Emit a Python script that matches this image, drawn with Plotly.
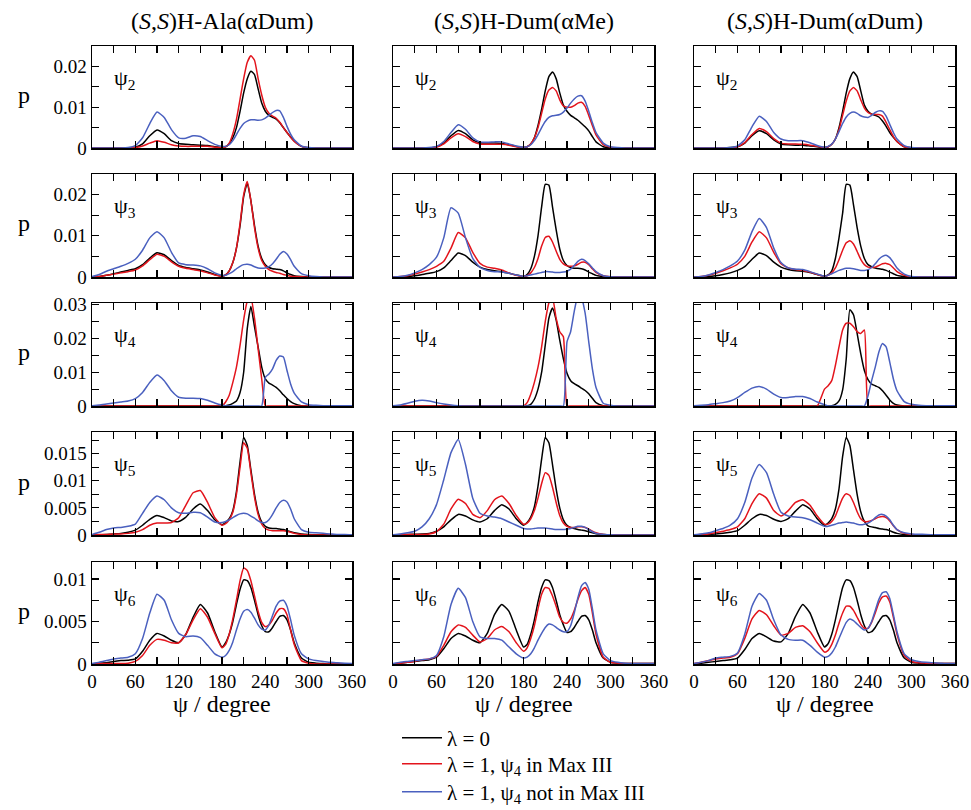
import plotly.graph_objects as go

# ---------------- data (p values in units of 1e-3) ----------------
PSI = [0, 10, 20, 30, 40, 50, 60, 70, 80, 90, 100, 110, 120, 130, 140, 150, 160, 170,
       180, 185, 190, 195, 200, 205, 210, 215, 220, 225, 230, 235, 240, 245, 250, 255, 260, 265, 270, 275, 280,
       290, 300, 310, 320, 330, 340, 350, 360]

P_UNIT = 1e-3

col_titles = ["(<i>S</i>,<i>S</i>)H-Ala(αDum)", "(<i>S</i>,<i>S</i>)H-Dum(αMe)", "(<i>S</i>,<i>S</i>)H-Dum(αDum)"]
row_labels = ["ψ<sub>2</sub>", "ψ<sub>3</sub>", "ψ<sub>4</sub>", "ψ<sub>5</sub>", "ψ<sub>6</sub>"]
series_names = ["λ = 0", "λ = 1, ψ<sub>4</sub> in Max III", "λ = 1, ψ<sub>4</sub> not in Max III"]

x_major = [0, 60, 120, 180, 240, 300, 360]
x_major_text = ["0", "60", "120", "180", "240", "300", "360"]
x_minor = [30, 90, 150, 210, 270, 330]

y_max = [0.025, 0.025, 0.0305, 0.019, 0.012]
y_major = [[0, 0.01, 0.02], [0, 0.01, 0.02], [0, 0.01, 0.02, 0.03],
           [0, 0.005, 0.01, 0.015], [0, 0.005, 0.01]]
y_major_text = [["0", "0.01", "0.02"], ["0", "0.01", "0.02"], ["0", "0.01", "0.02", "0.03"],
                ["0", "0.005", "0.01", "0.015"], ["0", "0.005", "0.01"]]
y_minor = [[0.005, 0.015, 0.025], [0.005, 0.015, 0.025], [0.005, 0.015, 0.025],
           [0.0025, 0.0075, 0.0125, 0.0175], [0.0025, 0.0075]]

# ---- column 1: (S,S)H-Ala(aDum)
ala_psi2_lam0 = [0, 0, 0, 0, 0, 0, 0.2, 1.0, 3.0, 4.4, 3.5, 1.8, 1.1, 0.9, 0.8, 0.7, 0.6, 0.3,
                 0.1, 0.3, 1.0, 2.5, 5.0, 9.0, 13.5, 17.0, 18.8, 18.0, 14.5, 11.0, 9.0, 8.0, 7.5, 7.1, 6.2, 5.0, 3.8, 2.7, 1.7,
                 0.4, 0.05, 0, 0, 0, 0, 0, 0]
ala_psi2_in = [0, 0, 0, 0, 0, 0, 0.1, 0.5, 1.2, 1.8, 1.4, 0.8, 0.5, 0.4, 0.4, 0.4, 0.4, 0.2,
               0.1, 0.3, 1.2, 3.5, 7.0, 12.0, 17.0, 21.0, 22.6, 21.5, 17.0, 13.0, 10.0, 8.5, 7.8, 7.3, 6.3, 5.0, 3.8, 2.6, 1.6,
               0.4, 0.05, 0, 0, 0, 0, 0, 0]
ala_psi2_out = [0, 0, 0, 0, 0, 0.1, 0.6, 2.5, 6.0, 8.8, 7.5, 4.5, 2.5, 2.4, 3.0, 2.8, 1.8, 0.9,
                0.4, 0.4, 0.8, 1.8, 3.3, 4.8, 6.0, 6.6, 6.9, 6.9, 6.8, 6.9, 7.3, 8.0, 8.7, 9.2, 9.1, 7.5, 5.3, 3.4, 2.0,
                0.5, 0.1, 0, 0, 0, 0, 0, 0]

ala_psi3_lam0 = [0, 0.1, 0.4, 0.8, 1.2, 1.6, 2.0, 3.0, 4.6, 5.9, 5.4, 4.0, 2.8, 2.3, 2.0, 1.7, 1.2, 0.6,
                 0.2, 0.5, 1.5, 3.5, 7.0, 12.5, 19.5, 22.8, 18.5, 12.5, 7.5, 4.5, 3.0, 2.3, 2.0, 1.9, 1.8, 1.5, 1.0, 0.6, 0.3,
                 0.1, 0, 0, 0, 0, 0, 0, 0]
ala_psi3_in = [0, 0.1, 0.4, 0.7, 1.0, 1.3, 1.7, 2.7, 4.2, 5.5, 5.0, 3.7, 2.6, 2.1, 1.8, 1.5, 1.0, 0.5,
               0.2, 0.5, 1.5, 3.5, 7.0, 13.0, 20.0, 23.2, 18.5, 12.0, 7.0, 4.0, 2.6, 1.8, 1.4, 1.1, 0.9, 0.6, 0.4, 0.2, 0.1,
               0.05, 0, 0, 0, 0, 0, 0, 0]
ala_psi3_out = [0.1, 0.6, 1.4, 2.0, 2.6, 3.3, 4.3, 6.5, 9.5, 11.0, 9.5, 6.0, 3.4, 3.0, 2.9, 2.7, 2.0, 1.0,
                0.4, 0.4, 0.8, 1.3, 2.0, 2.6, 3.0, 3.1, 2.9, 2.5, 2.2, 2.1, 2.2, 2.5, 3.2, 4.3, 5.5, 6.2, 5.6, 4.2, 2.6,
                0.8, 0.3, 0.1, 0, 0, 0, 0, 0]

ala_psi4_lam0 = [0, 0, 0, 0, 0, 0, 0, 0, 0, 0, 0, 0, 0, 0, 0, 0, 0, 0,
                 0, 0.1, 0.3, 0.8, 1.5, 4.0, 10.0, 23.0, 29.5, 23.5, 17.5, 11.5, 8.0, 6.8, 6.2, 5.5, 4.5, 3.3, 2.2, 1.3, 0.7,
                 0.1, 0, 0, 0, 0, 0, 0, 0]
ala_psi4_in = [0, 0, 0, 0, 0, 0, 0, 0, 0, 0, 0, 0, 0, 0, 0, 0, 0, 0,
               0, 1.2, 3.2, 7.0, 11.5, 18.0, 25.5, 31.0, 32.0, 26.0, 17.0, 8.0, 0, 0, 0, 0, 0, 0, 0, 0, 0,
               0, 0, 0, 0, 0, 0, 0, 0]
ala_psi4_out = [0.1, 0.3, 0.6, 0.9, 1.2, 1.5, 2.2, 4.0, 7.0, 9.2, 7.5, 4.5, 2.6, 2.3, 2.3, 2.2, 1.7, 0.9,
                0.3, 0.1, 0, 0, 0, 0, 0, 0, 0, 0, 0, 0, 8.5, 9.5, 11.0, 13.5, 14.8, 14.5, 10.5, 6.5, 3.8,
                1.2, 0.4, 0.2, 0.1, 0.1, 0.1, 0.1, 0.1]

ala_psi5_lam0 = [0, 0.05, 0.1, 0.2, 0.3, 0.5, 0.9, 1.8, 2.9, 3.6, 3.2, 2.6, 2.5, 3.3, 4.8, 5.7, 4.5, 2.8,
                 1.9, 2.3, 3.0, 4.5, 8.0, 13.5, 18.0, 16.5, 12.0, 7.5, 4.2, 2.4, 1.6, 1.3, 1.2, 1.2, 1.1, 1.0, 0.8, 0.6, 0.4,
                 0.2, 0.1, 0.05, 0.05, 0, 0, 0, 0]
ala_psi5_in = [0, 0.1, 0.1, 0.2, 0.2, 0.3, 0.5, 1.0, 1.8, 2.2, 2.2, 2.3, 3.2, 5.5, 7.8, 8.2, 6.0, 3.2,
               1.8, 2.1, 2.8, 4.2, 7.5, 12.5, 17.0, 16.0, 11.5, 7.0, 3.8, 2.0, 1.2, 0.9, 0.8, 0.8, 0.8, 0.8, 0.7, 0.5, 0.3,
               0.1, 0, 0, 0, 0, 0, 0, 0]
ala_psi5_out = [0.1, 0.5, 1.0, 1.3, 1.4, 1.6, 2.0, 4.0, 6.0, 7.2, 6.5, 5.0, 4.1, 4.0, 4.2, 4.1, 3.3, 2.4,
                2.3, 2.5, 2.8, 3.2, 3.6, 3.9, 4.0, 3.9, 3.5, 3.1, 2.6, 2.3, 2.3, 2.8, 3.8, 5.0, 6.0, 6.4, 6.1, 4.8, 3.0,
                1.0, 0.5, 0.4, 0.3, 0.2, 0.1, 0.1, 0.05]

ala_psi6_lam0 = [0, 0.1, 0.15, 0.3, 0.4, 0.45, 0.6, 1.5, 2.8, 3.6, 3.3, 2.8, 2.5, 3.5, 5.5, 7.0, 6.0, 3.8,
                 2.0, 2.5, 3.5, 5.0, 7.0, 8.8, 9.9, 9.8, 9.0, 7.5, 5.8, 4.5, 3.8, 3.8, 4.3, 5.0, 5.6, 5.7, 5.2, 4.0, 2.5,
                 0.7, 0.2, 0.1, 0.05, 0, 0, 0, 0]
ala_psi6_in = [0, 0.05, 0.05, 0.05, 0.05, 0.1, 0.3, 1.0, 2.2, 2.9, 2.8, 2.5, 2.5, 3.5, 5.2, 6.5, 5.5, 3.6,
               1.9, 2.3, 3.5, 5.3, 7.5, 9.8, 11.3, 11.0, 9.8, 8.0, 6.2, 4.9, 4.4, 4.6, 5.2, 6.0, 6.5, 6.5, 5.8, 4.0, 2.3,
               0.4, 0.1, 0, 0, 0, 0, 0, 0]
ala_psi6_out = [0.05, 0.2, 0.4, 0.6, 0.7, 0.8, 1.2, 3.0, 6.0, 8.2, 7.5, 5.2, 3.6, 3.2, 3.3, 3.1, 2.2, 1.2,
                0.8, 1.0, 1.6, 2.6, 4.0, 5.3, 6.2, 6.4, 6.1, 5.4, 4.6, 4.1, 4.0, 4.6, 5.7, 6.8, 7.4, 7.5, 6.8, 5.2, 3.4,
                1.2, 0.6, 0.4, 0.3, 0.2, 0.15, 0.1, 0.05]

# ---- column 2: (S,S)H-Dum(aMe)
ame_psi2_lam0 = [0, 0, 0, 0, 0, 0, 0.3, 1.2, 3.0, 4.3, 3.5, 2.0, 1.3, 1.2, 1.2, 1.1, 0.8, 0.4,
                 0.1, 0.3, 1.0, 2.5, 5.5, 9.5, 14.0, 17.5, 18.6, 17.0, 13.5, 10.5, 9.0, 8.0, 7.4, 6.8, 6.0, 5.2, 4.2, 2.8, 1.5,
                 0.3, 0.05, 0, 0, 0, 0, 0, 0]
ame_psi2_in = [0, 0, 0, 0, 0, 0, 0.2, 1.0, 2.5, 3.5, 2.8, 1.6, 1.0, 0.9, 0.9, 0.9, 0.7, 0.3,
               0.1, 0.3, 1.0, 2.5, 5.0, 8.5, 12.0, 14.2, 14.8, 14.0, 11.8, 10.3, 10.0, 10.0, 10.4, 11.0, 11.2, 10.2, 8.0, 5.5, 3.2,
               0.8, 0.2, 0, 0, 0, 0, 0, 0]
ame_psi2_out = [0, 0, 0, 0, 0, 0.1, 0.4, 1.6, 3.8, 5.7, 4.6, 2.5, 1.5, 1.4, 1.5, 1.5, 1.0, 0.5,
                0.2, 0.3, 0.8, 1.8, 3.3, 5.0, 6.5, 7.5, 7.9, 8.0, 8.2, 8.8, 9.8, 11.0, 12.0, 12.7, 12.8, 11.5, 9.0, 6.2, 3.8,
                1.2, 0.3, 0.1, 0, 0, 0, 0, 0]

ame_psi3_lam0 = [0, 0.05, 0.1, 0.3, 0.6, 0.9, 1.3, 2.2, 4.0, 5.8, 5.2, 3.6, 2.4, 1.8, 1.5, 1.3, 0.9, 0.5,
                 0.1, 0.6, 2.0, 5.0, 10.0, 17.0, 22.5, 22.3, 17.0, 11.5, 6.8, 4.0, 2.8, 2.3, 2.1, 2.1, 2.0, 1.7, 1.2, 0.8, 0.4,
                 0.1, 0, 0, 0, 0, 0, 0, 0]
ame_psi3_in = [0, 0.1, 0.3, 0.7, 1.2, 1.8, 2.6, 3.8, 7.0, 10.8, 9.5, 6.0, 3.3, 2.4, 2.1, 1.7, 1.0, 0.4,
               0.1, 0.3, 1.0, 2.3, 4.5, 7.5, 9.6, 9.9, 8.5, 6.3, 4.3, 3.2, 2.7, 2.6, 2.7, 3.1, 3.6, 3.6, 3.0, 2.0, 1.1,
               0.3, 0.05, 0, 0, 0, 0, 0, 0]
ame_psi3_out = [0, 0.1, 0.4, 1.0, 1.8, 3.0, 4.8, 9.5, 16.8, 15.5, 9.5, 4.5, 2.3, 1.6, 1.3, 1.2, 0.9, 0.5,
                0.2, 0.3, 0.5, 0.7, 0.9, 1.1, 1.3, 1.3, 1.2, 1.1, 1.1, 1.2, 1.4, 1.9, 2.8, 3.8, 4.3, 4.0, 3.2, 2.2, 1.3,
                0.3, 0.05, 0, 0, 0, 0, 0, 0]

ame_psi4_lam0 = [0, 0, 0, 0, 0, 0, 0, 0, 0, 0, 0, 0, 0, 0, 0, 0, 0, 0,
                 0, 0.1, 0.5, 2.0, 5.0, 10.0, 18.0, 26.0, 29.0, 25.5, 19.5, 14.0, 9.7, 7.5, 6.6, 6.0, 5.3, 4.6, 3.6, 2.3, 1.0,
                 0.1, 0, 0, 0, 0, 0, 0, 0]
ame_psi4_in = [0, 0, 0, 0, 0, 0, 0, 0, 0, 0, 0, 0, 0, 0, 0, 0, 0, 0,
               0, 1.0, 3.5, 7.0, 11.5, 17.5, 25.0, 30.5, 32.0, 26.0, 22.0, 20.5, 0, 0, 0, 0, 0, 0, 0, 0, 0,
               0, 0, 0, 0, 0, 0, 0, 0]
ame_psi4_out = [0.1, 0.3, 0.8, 1.4, 1.7, 1.5, 1.0, 0.6, 0.3, 0.1, 0, 0, 0, 0, 0, 0, 0, 0,
                0, 0, 0, 0, 0, 0, 0, 0, 0, 0, 0, 0, 19.0, 22.0, 28.0, 32.5, 32.0, 27.5, 19.0, 11.0, 5.5,
                0.8, 0.2, 0, 0, 0, 0, 0, 0]

ame_psi5_lam0 = [0, 0.05, 0.1, 0.15, 0.2, 0.3, 0.7, 1.5, 2.8, 3.8, 3.5, 2.8, 2.4, 3.0, 4.5, 5.6, 4.8, 3.0,
                 1.8, 2.3, 3.3, 5.2, 9.0, 14.0, 18.0, 17.0, 13.0, 8.5, 5.0, 2.8, 1.8, 1.4, 1.2, 1.0, 0.9, 0.8, 0.6, 0.4, 0.25,
                 0.1, 0.05, 0, 0, 0, 0, 0, 0]
ame_psi5_in = [0, 0.1, 0.1, 0.1, 0.1, 0.2, 0.6, 2.0, 4.8, 6.6, 5.8, 3.8, 3.2, 4.5, 6.5, 7.2, 5.8, 3.6,
               2.0, 2.2, 3.0, 4.5, 6.8, 9.5, 11.5, 11.0, 8.8, 6.0, 3.6, 2.2, 1.6, 1.4, 1.4, 1.5, 1.5, 1.4, 1.1, 0.7, 0.4,
               0.1, 0.05, 0, 0, 0, 0, 0, 0]
ame_psi5_out = [0.05, 0.2, 0.4, 0.7, 1.5, 3.0, 5.6, 10.2, 15.2, 17.6, 13.0, 6.8, 4.0, 3.5, 3.3, 3.0, 2.4, 1.8,
                1.2, 1.1, 1.1, 1.2, 1.3, 1.3, 1.3, 1.2, 1.1, 1.0, 1.0, 1.0, 1.1, 1.2, 1.4, 1.6, 1.6, 1.4, 1.0, 0.6, 0.3,
                0.1, 0.05, 0, 0, 0, 0, 0, 0]

ame_psi6_lam0 = [0, 0.1, 0.2, 0.3, 0.4, 0.5, 0.8, 1.8, 3.0, 3.6, 3.3, 2.8, 2.5, 3.6, 5.8, 7.0, 6.2, 4.0,
                 2.0, 2.3, 3.5, 5.2, 7.3, 9.0, 9.9, 9.8, 9.0, 7.5, 5.8, 4.6, 3.7, 3.8, 4.3, 5.0, 5.6, 5.7, 5.2, 4.0, 2.5,
                 0.7, 0.2, 0.1, 0.05, 0.05, 0.05, 0.05, 0.05]
ame_psi6_in = [0, 0.1, 0.2, 0.3, 0.5, 0.6, 0.9, 2.2, 3.8, 4.6, 4.3, 3.4, 2.6, 3.0, 4.0, 4.4, 3.8, 2.5,
               1.5, 1.9, 3.0, 4.5, 6.5, 8.2, 9.0, 8.9, 8.0, 6.8, 5.5, 4.9, 4.8, 5.3, 6.3, 7.6, 8.6, 9.0, 8.2, 6.0, 3.5,
               0.8, 0.2, 0.1, 0.05, 0.05, 0.05, 0.05, 0.05]
ame_psi6_out = [0.05, 0.2, 0.3, 0.4, 0.5, 0.6, 1.0, 3.2, 7.0, 8.9, 7.8, 5.0, 3.2, 3.0, 3.0, 2.8, 2.0, 1.2,
                0.7, 0.8, 1.2, 1.9, 2.8, 3.6, 4.3, 4.7, 4.6, 4.3, 4.0, 3.8, 3.8, 4.5, 6.0, 7.8, 9.2, 9.6, 8.8, 6.5, 4.0,
                1.2, 0.4, 0.2, 0.1, 0.05, 0.05, 0.05, 0.05]

# ---- column 3: (S,S)H-Dum(aDum)
adum_psi2_lam0 = [0, 0, 0, 0, 0, 0.1, 0.3, 1.2, 3.0, 4.2, 3.5, 2.0, 1.0, 0.8, 0.7, 0.7, 0.5, 0.3,
                  0.1, 0.3, 0.9, 2.2, 5.0, 9.0, 13.5, 17.0, 18.6, 17.5, 14.0, 10.5, 9.0, 8.3, 8.0, 7.6, 6.6, 5.3, 3.8, 2.6, 1.6,
                  0.3, 0.05, 0, 0, 0, 0, 0, 0]
adum_psi2_in = [0, 0, 0, 0, 0, 0, 0.3, 1.3, 3.3, 4.8, 4.0, 2.3, 1.2, 1.0, 1.0, 0.9, 0.7, 0.4,
                0.1, 0.3, 0.9, 2.2, 4.5, 8.0, 11.5, 14.0, 14.8, 14.0, 11.8, 9.8, 8.7, 8.3, 8.2, 8.2, 7.8, 6.3, 4.5, 2.8, 1.6,
                0.3, 0.05, 0, 0, 0, 0, 0, 0]
adum_psi2_out = [0, 0, 0, 0, 0, 0.1, 0.5, 2.0, 5.2, 7.8, 6.5, 3.8, 2.2, 1.8, 1.8, 1.8, 1.3, 0.6,
                 0.2, 0.4, 1.0, 2.2, 4.0, 6.0, 7.6, 8.5, 8.8, 8.5, 7.9, 7.6, 7.5, 8.0, 8.7, 9.1, 9.0, 7.8, 5.8, 3.8, 2.2,
                 0.6, 0.1, 0, 0, 0, 0, 0, 0]

adum_psi3_lam0 = [0, 0.05, 0.1, 0.3, 0.6, 1.0, 1.6, 2.5, 4.3, 5.8, 5.2, 3.6, 2.4, 1.8, 1.5, 1.4, 1.1, 0.6,
                  0.2, 0.5, 1.5, 4.5, 9.5, 15.5, 22.5, 22.3, 17.5, 12.0, 7.5, 4.5, 3.0, 2.5, 2.2, 2.0, 1.9, 1.6, 1.2, 0.8, 0.4,
                  0.1, 0, 0, 0, 0, 0, 0, 0]
adum_psi3_in = [0, 0.1, 0.4, 0.9, 1.5, 2.2, 3.1, 5.0, 8.5, 11.0, 9.5, 6.0, 3.2, 2.2, 1.8, 1.6, 1.2, 0.6,
                0.2, 0.4, 1.0, 2.2, 4.2, 6.5, 8.3, 8.8, 8.0, 6.2, 4.3, 3.0, 2.4, 2.3, 2.4, 2.8, 3.2, 3.3, 3.0, 2.2, 1.3,
                0.4, 0.05, 0, 0, 0, 0, 0, 0]
adum_psi3_out = [0, 0.1, 0.5, 1.1, 1.8, 2.7, 3.9, 6.5, 11.0, 14.2, 12.0, 7.0, 3.5, 2.2, 1.9, 1.8, 1.3, 0.7,
                 0.2, 0.4, 0.8, 1.2, 1.6, 1.9, 2.1, 2.1, 2.0, 1.8, 1.6, 1.6, 1.8, 2.3, 3.2, 4.3, 5.0, 5.3, 4.7, 3.5, 2.2,
                 0.7, 0.1, 0, 0, 0, 0, 0, 0]

adum_psi4_lam0 = [0, 0, 0, 0, 0, 0, 0, 0, 0, 0, 0, 0, 0, 0, 0, 0, 0, 0,
                  0, 0, 0.1, 0.5, 1.5, 4.8, 14.0, 28.5, 27.0, 21.5, 15.5, 10.5, 7.8, 6.5, 6.0, 5.5, 4.5, 3.2, 1.8, 0.8, 0.3,
                  0, 0, 0, 0, 0, 0, 0, 0]
adum_psi4_in = [0, 0, 0, 0, 0, 0, 0, 0, 0, 0, 0, 0, 0, 0, 0, 0, 0, 0,
                5.0, 6.0, 7.5, 12.0, 17.5, 22.5, 24.5, 24.5, 23.5, 22.0, 21.5, 22.5, 0, 0, 0, 0, 0, 0, 0, 0, 0,
                0, 0, 0, 0, 0, 0, 0, 0]
adum_psi4_out = [0.05, 0.2, 0.4, 0.7, 1.0, 1.5, 2.5, 4.0, 5.3, 5.8, 5.0, 3.5, 2.5, 2.5, 2.8, 2.8, 2.2, 1.2,
                 0.4, 0, 0, 0, 0, 0, 0, 0, 0, 0, 0, 0, 3.0, 7.5, 11.5, 16.0, 18.5, 17.5, 13.0, 8.0, 4.5,
                 1.3, 0.5, 0.2, 0.1, 0.05, 0.05, 0.05, 0.05]

adum_psi5_lam0 = [0, 0.1, 0.15, 0.2, 0.3, 0.5, 0.8, 1.8, 3.0, 3.8, 3.6, 2.9, 2.5, 3.0, 4.4, 5.6, 4.8, 3.0,
                  1.8, 2.2, 3.0, 4.8, 8.5, 14.5, 18.0, 16.5, 12.0, 7.5, 4.3, 2.5, 1.7, 1.5, 1.4, 1.2, 1.1, 1.0, 0.8, 0.5, 0.3,
                  0.1, 0.05, 0, 0, 0, 0, 0, 0]
adum_psi5_in = [0, 0.1, 0.2, 0.4, 0.7, 1.0, 1.5, 3.0, 5.8, 7.6, 6.8, 4.5, 3.5, 4.5, 6.0, 6.5, 5.5, 3.5,
                2.0, 2.0, 2.5, 3.5, 5.2, 6.8, 7.6, 7.3, 6.0, 4.3, 3.0, 2.5, 2.5, 2.7, 3.0, 3.3, 3.4, 3.2, 2.6, 1.7, 1.0,
                0.3, 0.1, 0.05, 0.05, 0.05, 0.05, 0.05, 0.05]
adum_psi5_out = [0.05, 0.2, 0.4, 0.8, 1.2, 1.8, 3.0, 6.0, 10.5, 13.0, 11.5, 7.5, 4.2, 3.5, 3.3, 3.2, 2.8, 2.2,
                 1.6, 1.6, 1.8, 2.0, 2.2, 2.3, 2.4, 2.3, 2.2, 2.0, 1.9, 2.0, 2.2, 2.6, 3.2, 3.7, 3.8, 3.5, 2.8, 1.8, 1.0,
                 0.4, 0.2, 0.15, 0.1, 0.05, 0.05, 0.05, 0.05]

adum_psi6_lam0 = [0, 0.1, 0.2, 0.3, 0.4, 0.5, 0.7, 1.7, 3.0, 3.6, 3.2, 2.7, 2.6, 3.6, 5.6, 7.0, 6.0, 3.8,
                  2.0, 2.4, 3.5, 5.2, 7.2, 9.0, 9.9, 9.8, 9.0, 7.5, 5.8, 4.5, 3.7, 3.8, 4.3, 5.0, 5.6, 5.7, 5.2, 4.0, 2.5,
                  0.7, 0.2, 0.1, 0.05, 0.05, 0.05, 0.05, 0.05]
adum_psi6_in = [0.05, 0.2, 0.4, 0.6, 0.7, 0.8, 1.2, 3.0, 5.3, 6.3, 5.8, 4.5, 3.4, 3.6, 4.3, 4.5, 3.8, 2.5,
                1.4, 1.6, 2.3, 3.4, 4.8, 6.0, 6.8, 6.8, 6.3, 5.5, 4.7, 4.2, 4.2, 4.9, 6.0, 7.2, 7.9, 8.0, 7.3, 5.5, 3.5,
                1.0, 0.3, 0.15, 0.1, 0.05, 0.05, 0.05, 0.05]
adum_psi6_out = [0.05, 0.2, 0.4, 0.7, 0.8, 0.9, 1.3, 3.5, 6.8, 8.3, 7.5, 5.2, 3.4, 2.9, 2.8, 2.8, 2.2, 1.4,
                 0.8, 0.9, 1.3, 2.0, 3.0, 4.0, 4.9, 5.3, 5.1, 4.7, 4.3, 4.0, 4.2, 5.0, 6.3, 7.6, 8.4, 8.5, 7.7, 5.8, 3.8,
                 1.2, 0.5, 0.3, 0.2, 0.15, 0.1, 0.05, 0.05]

panels = [
    [(ala_psi2_lam0, ala_psi2_in, ala_psi2_out), (ame_psi2_lam0, ame_psi2_in, ame_psi2_out), (adum_psi2_lam0, adum_psi2_in, adum_psi2_out)],
    [(ala_psi3_lam0, ala_psi3_in, ala_psi3_out), (ame_psi3_lam0, ame_psi3_in, ame_psi3_out), (adum_psi3_lam0, adum_psi3_in, adum_psi3_out)],
    [(ala_psi4_lam0, ala_psi4_in, ala_psi4_out), (ame_psi4_lam0, ame_psi4_in, ame_psi4_out), (adum_psi4_lam0, adum_psi4_in, adum_psi4_out)],
    [(ala_psi5_lam0, ala_psi5_in, ala_psi5_out), (ame_psi5_lam0, ame_psi5_in, ame_psi5_out), (adum_psi5_lam0, adum_psi5_in, adum_psi5_out)],
    [(ala_psi6_lam0, ala_psi6_in, ala_psi6_out), (ame_psi6_lam0, ame_psi6_in, ame_psi6_out), (adum_psi6_lam0, adum_psi6_in, adum_psi6_out)],
]

# ---------------- styling / layout ----------------
W, H = 971, 810
FONT = "Liberation Serif"
colors = ["#000000", "#e3141c", "#4a60bf"]
legend_ids = ["legend", "legend2", "legend3"]
legend_rows_px = [738, 764, 792]
# positions below are in window pixels
col_px = [(92, 352), (393, 654), (694, 955)]
row_px = [(46, 148), (174, 277), (303, 406), (432, 535), (562, 664)]
TICK = dict(ticks="inside", ticklen=7, tickwidth=1.2, tickcolor="black")


def fx(px):
    return px / W


def fy(py):
    return 1 - py / H


fig = go.Figure()
layout = dict(width=W, height=H, margin=dict(l=0, r=0, t=0, b=0, autoexpand=False),
              paper_bgcolor="white", plot_bgcolor="white",
              font=dict(family=FONT, size=19, color="black"),
              showlegend=True)
for i, lid in enumerate(legend_ids):
    layout[lid] = dict(x=fx(397), y=fy(legend_rows_px[i]), xanchor="left", yanchor="middle",
                       bgcolor="rgba(0,0,0,0)", font=dict(family=FONT, size=21),
                       itemwidth=40, tracegroupgap=0)
annotations = []

for r in range(5):
    for c in range(3):
        k = r * 3 + c + 1
        sfx = "" if k == 1 else str(k)
        xl, xr = col_px[c]
        yt, yb = row_px[r]
        for s, ydata in enumerate(panels[r][c]):
            assert len(ydata) == len(PSI), (r, c, s, len(ydata))
            fig.add_trace(go.Scatter(
                x=PSI, y=[v * P_UNIT for v in ydata], mode="lines",
                line=dict(color=colors[s], width=1.5, shape="spline", smoothing=0.5),
                name=series_names[s], showlegend=(k == 1), legend=legend_ids[s],
                xaxis="x" + sfx, yaxis="y" + sfx, hoverinfo="skip"))
        layout["xaxis" + sfx] = dict(
            domain=[fx(xl), fx(xr)], anchor="y" + sfx, range=[0, 360], automargin=False,
            tickmode="array", tickvals=x_major, ticktext=x_major_text,
            minor=dict(tickvals=x_minor, **TICK),
            showticklabels=(r == 4), **TICK,
            showline=True, linewidth=1.5, linecolor="black", mirror="allticks",
            showgrid=False, zeroline=False, tickfont=dict(family=FONT, size=19))
        layout["yaxis" + sfx] = dict(
            domain=[fy(yb), fy(yt)], anchor="x" + sfx, range=[0, y_max[r]], automargin=False,
            tickmode="array", tickvals=y_major[r], ticktext=y_major_text[r],
            minor=dict(tickvals=y_minor[r], **TICK),
            showticklabels=(c == 0), **TICK,
            showline=True, linewidth=1.5, linecolor="black", mirror="allticks",
            showgrid=False, zeroline=False, tickfont=dict(family=FONT, size=19))
        annotations.append(dict(
            text=row_labels[r], xref="paper", yref="paper",
            x=fx(xl + 20), y=fy(yt + 17), xanchor="left", yanchor="top",
            showarrow=False, font=dict(family=FONT, size=22)))
    annotations.append(dict(
        text="p", xref="paper", yref="paper", x=fx(24), y=fy((row_px[r][0] + row_px[r][1]) / 2 - 2),
        xanchor="center", yanchor="middle", showarrow=False, font=dict(family=FONT, size=24)))

for c in range(3):
    xc = (col_px[c][0] + col_px[c][1]) / 2
    annotations.append(dict(text=col_titles[c], xref="paper", yref="paper", x=fx(xc), y=fy(21),
                            xanchor="center", yanchor="middle", showarrow=False,
                            font=dict(family=FONT, size=24)))
    annotations.append(dict(text="ψ / degree", xref="paper", yref="paper", x=fx(xc), y=fy(704),
                            xanchor="center", yanchor="middle", showarrow=False,
                            font=dict(family=FONT, size=24)))

layout["annotations"] = annotations
fig.update_layout(**layout)
# remove the default 8 px page margin so the 971x810 figure fills the window exactly
fig.write_html("out.html",
               config={"displayModeBar": False, "staticPlot": True},
               post_script="document.body.style.margin='0';"
                           "document.documentElement.style.overflow='hidden';")
